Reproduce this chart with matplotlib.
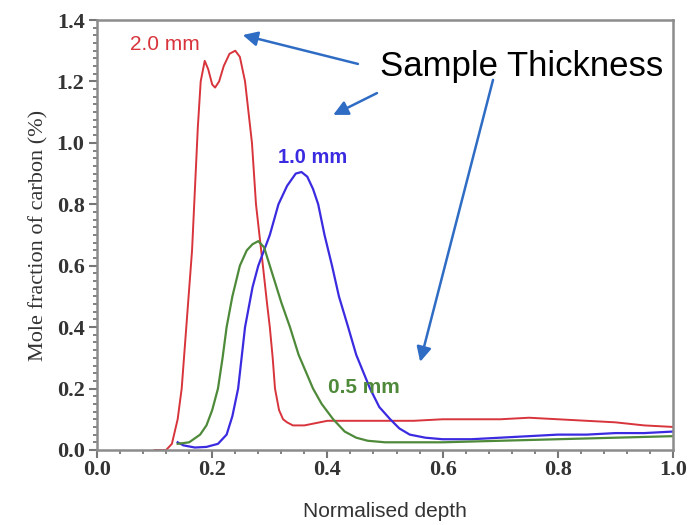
import matplotlib.pyplot as plt
from matplotlib.ticker import MultipleLocator

# normalised depth / mole fraction
red_x = [0.10, 0.12, 0.13, 0.14, 0.147, 0.155, 0.165, 0.17, 0.175, 0.18, 0.187, 0.193, 0.20, 0.205,
         0.212, 0.22, 0.23, 0.24, 0.248, 0.257, 0.263, 0.269, 0.276, 0.282, 0.288, 0.295, 0.30,
         0.305, 0.309, 0.316, 0.323, 0.33, 0.34, 0.36, 0.40, 0.45, 0.50, 0.55, 0.60, 0.65, 0.70,
         0.75, 0.80, 0.85, 0.90, 0.95, 1.0]
red_y = [0.0, 0.0, 0.02, 0.10, 0.20, 0.40, 0.65, 0.85, 1.05, 1.20, 1.267, 1.24, 1.19, 1.18,
         1.20, 1.25, 1.29, 1.30, 1.28, 1.20, 1.10, 1.00, 0.80, 0.70, 0.60, 0.48, 0.40,
         0.30, 0.20, 0.13, 0.10, 0.09, 0.08, 0.08, 0.095, 0.095, 0.095, 0.095, 0.10, 0.10, 0.10,
         0.105, 0.10, 0.095, 0.09, 0.08, 0.075]

blue_x = [0.14, 0.15, 0.17, 0.19, 0.21, 0.225, 0.235, 0.245, 0.257, 0.27, 0.28, 0.30, 0.315,
          0.33, 0.345, 0.355, 0.365, 0.375, 0.384, 0.395, 0.408, 0.42, 0.436, 0.45, 0.474,
          0.49, 0.509, 0.525, 0.543, 0.57, 0.60, 0.65, 0.70, 0.75, 0.80, 0.85, 0.90, 0.95, 1.0]
blue_y = [0.025, 0.015, 0.008, 0.01, 0.02, 0.05, 0.11, 0.2, 0.4, 0.53, 0.6, 0.7, 0.8,
          0.86, 0.9, 0.905, 0.89, 0.85, 0.8, 0.7, 0.6, 0.5, 0.4, 0.31, 0.2,
          0.14, 0.1, 0.07, 0.05, 0.04, 0.035, 0.035, 0.04, 0.045, 0.05, 0.05, 0.055, 0.055, 0.06]

green_x = [0.14, 0.16, 0.179, 0.19, 0.20, 0.21, 0.218, 0.225, 0.235, 0.248, 0.26, 0.27, 0.28,
           0.29, 0.30, 0.31, 0.32, 0.335, 0.35, 0.375, 0.39, 0.41, 0.43, 0.45, 0.47, 0.50,
           0.60, 0.70, 0.80, 0.90, 1.0]
green_y = [0.02, 0.025, 0.05, 0.08, 0.13, 0.2, 0.3, 0.4, 0.5, 0.6, 0.65, 0.67, 0.68,
           0.66, 0.6, 0.54, 0.48, 0.4, 0.31, 0.2, 0.15, 0.1, 0.06, 0.04, 0.03, 0.025,
           0.025, 0.03, 0.035, 0.04, 0.045]

red = '#d8343c'
blue = '#3b2be0'
green = '#4e8a3a'
arrow_col = '#2f6cc4'

fig = plt.figure(figsize=(6.89, 5.25), dpi=100)
ax = fig.add_axes([0.1408, 0.1429, 0.836, 0.819])

ax.plot(red_x, red_y, color=red, lw=1.4)
ax.plot(blue_x, blue_y, color=blue, lw=1.6)
ax.plot(green_x, green_y, color=green, lw=1.6)

ax.set_xlim(0, 1.0)
ax.set_ylim(0, 1.4)
ax.xaxis.set_major_locator(MultipleLocator(0.2))
ax.xaxis.set_minor_locator(MultipleLocator(0.04))
ax.yaxis.set_major_locator(MultipleLocator(0.2))
ax.yaxis.set_minor_locator(MultipleLocator(0.025))
ax.xaxis.set_major_formatter(plt.FormatStrFormatter('%.1f'))
ax.yaxis.set_major_formatter(plt.FormatStrFormatter('%.1f'))

for s in ax.spines.values():
    s.set_color('#8c8c8c')
    s.set_linewidth(1.8)
ax.tick_params(which='major', direction='out', length=6, width=1.5, color='#777777',
               labelsize=16, labelcolor='#333333', pad=3)
ax.tick_params(axis='x', which='major', pad=1)
ax.tick_params(which='minor', direction='out', length=3, width=1.3, color='#777777')
for lab in ax.get_xticklabels() + ax.get_yticklabels():
    lab.set_family('Liberation Serif')
    lab.set_fontweight('bold')

ax.set_ylabel('Mole fraction of carbon (%)', family='Liberation Serif', fontsize=16,
              color='#333333', labelpad=6)
ax.set_xlabel('Normalised depth', family='Liberation Sans', fontsize=15,
              color='#333333', labelpad=16)

ax.text(0.057, 1.319, '2.0 mm', color=red, fontsize=15, family='Liberation Sans', va='center')
ax.text(0.314, 0.951, '1.0 mm', color=blue, fontsize=14.5, family='Liberation Sans',
        fontweight='bold', va='center')
ax.text(0.401, 0.202, '0.5 mm', color=green, fontsize=15, family='Liberation Sans',
        fontweight='bold', va='center')
ax.text(0.491, 1.25, 'Sample Thickness', color='black', fontsize=25,
        family='Liberation Sans', va='center')

arrows = [((0.453, 1.257), (0.253, 1.351)),
          ((0.486, 1.162), (0.41, 1.091)),
          ((0.6875, 1.205), (0.561, 0.287))]
for tail, head in arrows:
    ax.annotate('', xy=head, xytext=tail,
                arrowprops=dict(arrowstyle='-|>', color=arrow_col, lw=1.8,
                                mutation_scale=22, shrinkA=0, shrinkB=0))

fig.savefig('out.png', dpi=100)
